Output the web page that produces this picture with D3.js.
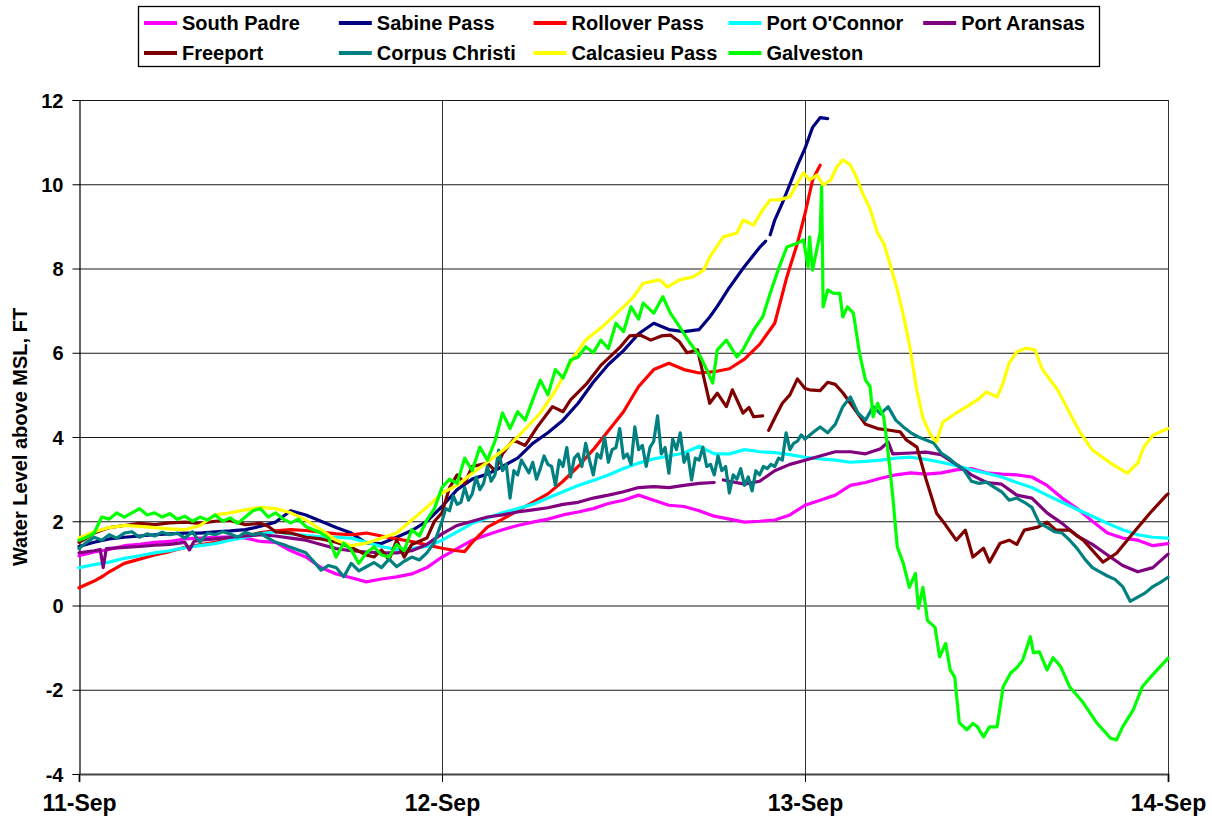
<!DOCTYPE html>
<html>
<head>
<meta charset="utf-8">
<script src="https://cdn.jsdelivr.net/npm/d3@7"></script>
<style>
  body { margin: 0; background: #fff; }
  svg { display: block; }
  text { font-family: "Liberation Sans", Arial, sans-serif; font-weight: bold; fill: #000; }
</style>
</head>
<body>
<svg id="chart" width="1212" height="817"></svg>
<script>
// Water level readings, [hours after 11-Sep 00:00, feet above MSL]; null marks a data gap.
const southPadre = [[0,1.18],[1,1.27],[2,1.33],[3,1.42],[4,1.45],[5,1.5],[6,1.52],[7,1.58],[8,1.6],[9,1.62],[10,1.63],[11,1.6],[12,1.52],[13,1.5],[14,1.3],[15,1.15],[16,0.9],[17,0.75],[18,0.66],[19,0.56],[20,0.63],[21,0.68],[22,0.75],[23,0.9],[24,1.15],[25,1.35],[26,1.55],[27,1.68],[28,1.8],[29,1.9],[30,1.98],[31,2.05],[32,2.15],[33,2.22],[34,2.3],[35,2.42],[36,2.5],[37,2.62],[38,2.5],[39,2.38],[40,2.35],[41,2.25],[42,2.12],[43,2.05],[44,1.98],[45,2.0],[46,2.03],[47,2.15],[48,2.38],[49,2.5],[50,2.62],[51,2.85],[52,2.92],[53,3.02],[54,3.1],[55,3.15],[56,3.12],[57,3.15],[58,3.22],[59,3.25],[60,3.15],[61,3.12],[62,3.1],[63,3.05],[64,2.85],[65,2.55],[66,2.3],[67,2.0],[68,1.72],[69,1.6],[70,1.55],[71,1.42],[72,1.47]];

const sabinePass = [[0,1.4],[1,1.5],[2,1.58],[3,1.62],[4,1.65],[5,1.68],[6,1.7],[7,1.72],[8,1.72],[9,1.75],[10,1.77],[11,1.8],[12,1.88],[13,1.98],[14,2.25],[15,2.15],[16,2.0],[17,1.85],[18,1.72],[19,1.48],[20,1.47],[21,1.62],[22,1.78],[23,2.0],[24,2.35],[25,2.75],[26,3.0],[27,3.12],[28,3.3],[29,3.5],[30,3.85],[31,4.1],[32,4.4],[33,4.8],[34,5.3],[35,5.72],[36,6.05],[37,6.45],[38,6.7],[39,6.55],[40,6.5],[41,6.55],[41.7,6.85],[42.2,7.1],[43,7.55],[44,8.05],[45,8.5],[45.4,8.65],[45.55,null],[45.7,8.8],[46,9.15],[46.5,9.55],[47,10.0],[47.5,10.45],[48,10.85],[48.5,11.35],[49,11.58],[49.5,11.56]];

const rolloverPass = [[0,0.42],[1,0.58],[1.6,0.7],[2,0.8],[3,1.0],[4,1.1],[5,1.2],[6,1.28],[7,1.38],[8,1.44],[9,1.5],[10,1.58],[11,1.65],[12,1.73],[13,1.77],[14,1.8],[15,1.78],[16,1.74],[17,1.7],[18,1.68],[19,1.72],[20,1.65],[21,1.58],[22,1.52],[23,1.44],[24,1.36],[25,1.3],[25.5,1.28],[26,1.5],[27,1.86],[28,2.05],[29,2.25],[30,2.45],[31,2.65],[32,2.95],[33,3.3],[34,3.7],[35,4.15],[36,4.6],[37,5.2],[38,5.6],[39,5.75],[40,5.6],[41,5.52],[42,5.55],[43,5.62],[44,5.85],[45,6.2],[46,6.7],[46.8,7.8],[47.5,8.6],[48,9.3],[48.5,10.1],[49,10.45]];

const portOConnor = [[0,0.9],[1,0.97],[2,1.03],[3,1.12],[4,1.18],[5,1.25],[6,1.3],[7,1.37],[8,1.42],[9,1.47],[10,1.55],[11,1.62],[12,1.7],[13,1.75],[14,1.7],[15,1.66],[16,1.63],[17,1.62],[18,1.6],[19,1.5],[20,1.4],[21,1.33],[22,1.35],[23,1.4],[24,1.55],[25,1.75],[26,1.95],[27,2.08],[28,2.2],[29,2.3],[30,2.4],[31,2.55],[32,2.7],[33,2.85],[34,2.97],[35,3.1],[36,3.25],[37,3.38],[38,3.48],[39,3.55],[40,3.62],[41,3.78],[42,3.6],[43,3.6],[44,3.7],[45,3.65],[46,3.63],[47,3.58],[48,3.52],[49,3.48],[50,3.45],[51,3.4],[52,3.42],[53,3.45],[54,3.5],[55,3.52],[56,3.47],[57,3.4],[58,3.32],[59,3.22],[60,3.14],[61,3.05],[62,2.92],[63,2.8],[64,2.62],[65,2.45],[66,2.28],[67,2.12],[68,1.95],[69,1.8],[70,1.68],[71,1.62],[72,1.6]];

const portAransas = [[0,1.25],[1,1.3],[1.4,1.33],[1.6,0.9],[1.8,1.35],[3,1.38],[4,1.4],[5,1.43],[6,1.45],[7,1.5],[7.3,1.32],[7.6,1.52],[8,1.55],[9,1.58],[10,1.62],[11,1.65],[12,1.68],[13,1.65],[14,1.6],[15,1.55],[16,1.45],[17,1.35],[18,1.3],[19,1.27],[20,1.25],[21,1.25],[22,1.3],[23,1.45],[24,1.7],[25,1.9],[26,2.0],[27,2.1],[28,2.15],[29,2.22],[30,2.27],[31,2.32],[32,2.4],[33,2.45],[34,2.55],[35,2.62],[36,2.7],[37,2.8],[38,2.82],[39,2.8],[40,2.85],[41,2.9],[42,2.92],[42.3,null],[42.6,2.98],[43,2.95],[44,2.88],[45,2.95],[46,3.2],[47,3.35],[48,3.45],[49,3.55],[50,3.65],[51,3.65],[52,3.6],[53,3.72],[53.5,3.88],[53.8,3.6],[55,3.62],[56,3.64],[57,3.58],[58,3.35],[59,3.1],[60,2.92],[61,2.88],[62,2.62],[63,2.55],[64,2.2],[65,1.95],[66,1.65],[67,1.45],[68,1.2],[69,0.95],[70,0.8],[71,0.9],[72,1.22]];

const freeport = [[0,1.5],[0.5,1.6],[1,1.72],[2,1.85],[3,1.9],[4,1.95],[5,1.92],[6,1.96],[7,1.98],[8,1.95],[9,2.0],[10,2.02],[11,1.92],[12,1.95],[12.5,1.88],[13,1.75],[14,1.72],[15,1.62],[16,1.58],[17,1.5],[18,1.38],[19,1.2],[19.5,1.15],[20,1.32],[20.5,1.08],[21,1.55],[21.5,1.15],[22,1.45],[23,1.6],[23.5,2.0],[24,2.2],[24.5,2.8],[25,3.1],[25.5,2.9],[26,3.3],[27,3.38],[27.5,3.2],[28,3.6],[28.7,3.93],[29.5,3.8],[30.3,4.24],[31.3,4.72],[32,4.6],[32.5,4.88],[33.6,5.28],[34.5,5.7],[35.8,6.14],[36.4,6.4],[37.1,6.42],[37.8,6.3],[38.5,6.4],[39.1,6.42],[39.7,6.26],[40.2,6.0],[40.9,6.07],[41.3,5.43],[41.5,5.12],[41.7,4.8],[42.2,5.04],[42.8,4.72],[43.2,5.12],[43.9,4.57],[44.3,4.7],[44.6,4.48],[45.2,4.5],[45.4,null],[45.6,4.16],[46,4.45],[46.5,4.8],[47,5.0],[47.5,5.38],[48,5.15],[48.3,5.12],[49,5.1],[49.5,5.3],[50,5.25],[50.5,5.05],[51,4.8],[52,4.3],[52.8,4.2],[53.6,4.16],[54.3,4.12],[54.7,3.93],[55.4,3.76],[56,3.0],[56.7,2.19],[57.3,1.91],[58,1.55],[58.6,1.79],[59.1,1.15],[59.8,1.36],[60.2,1.03],[60.9,1.48],[61.5,1.55],[62,1.45],[62.5,1.79],[63.4,1.86],[64,1.98],[64.6,1.79],[65.5,1.79],[66.4,1.55],[67.7,1.03],[68.6,1.24],[69.7,1.72],[70.8,2.19],[71.9,2.62],[72,2.65]];

const corpusChristi = [[0,1.35],[0.5,1.5],[1,1.62],[1.5,1.55],[2,1.68],[2.5,1.6],[3,1.72],[3.5,1.75],[4,1.62],[4.5,1.7],[5,1.65],[5.5,1.74],[6,1.68],[6.5,1.72],[7,1.6],[7.5,1.75],[8,1.5],[8.5,1.72],[9,1.68],[9.5,1.75],[10,1.7],[10.5,1.62],[11,1.74],[11.5,1.68],[12,1.72],[12.5,1.6],[13,1.5],[13.5,1.45],[14,1.38],[14.5,1.32],[15,1.25],[15.5,1.05],[16,0.84],[16.5,0.95],[17,0.9],[17.5,0.68],[18,1.0],[18.5,0.82],[19,0.92],[19.5,1.02],[20,0.9],[20.5,1.1],[21,0.92],[21.5,1.05],[22,1.15],[22.5,1.08],[23,1.25],[23.5,1.5],[24,2.0],[24.25,2.3],[24.5,2.25],[24.75,2.6],[25,2.4],[25.25,2.45],[25.5,2.8],[25.75,2.5],[26,2.65],[26.25,3.05],[26.5,2.75],[26.75,2.9],[27,3.3],[27.25,2.95],[27.5,3.1],[27.75,3.69],[28,3.2],[28.25,3.35],[28.5,2.55],[28.75,3.2],[29,3.1],[29.25,3.45],[29.5,3.3],[29.75,3.15],[30,3.4],[30.25,3.0],[30.5,3.25],[30.75,3.55],[31,3.35],[31.25,3.3],[31.5,2.85],[31.75,3.45],[32,3.3],[32.25,3.75],[32.5,3.05],[32.75,3.5],[33,3.6],[33.25,3.3],[33.5,3.85],[33.75,3.45],[34,3.1],[34.25,3.6],[34.5,3.5],[34.75,4.0],[35,3.4],[35.25,3.7],[35.5,3.75],[35.75,4.2],[36,3.5],[36.25,3.6],[36.5,3.35],[36.75,4.24],[37,3.7],[37.25,3.8],[37.5,3.3],[37.75,3.75],[38,3.9],[38.25,4.5],[38.5,3.6],[38.75,3.75],[39,3.14],[39.25,3.95],[39.5,3.7],[39.75,4.1],[40,3.4],[40.25,3.6],[40.5,2.98],[40.75,3.5],[41,3.45],[41.25,3.76],[41.5,3.3],[41.75,3.35],[42,3.1],[42.25,3.55],[42.5,3.2],[42.75,3.3],[43,2.67],[43.25,3.1],[43.5,3.0],[43.75,3.25],[44,2.85],[44.25,3.05],[44.5,2.72],[44.75,3.2],[45,3.1],[45.25,3.3],[45.5,3.25],[45.75,3.35],[46,3.3],[46.25,3.5],[46.5,3.45],[46.75,4.1],[47,3.7],[47.25,3.85],[47.5,3.9],[47.75,4.05],[48,3.95],[48.5,4.1],[49,4.24],[49.5,4.1],[50,4.3],[50.5,4.72],[51,4.95],[51.5,4.57],[52,4.4],[52.5,4.72],[53,4.55],[53.5,4.72],[54,4.4],[54.5,4.24],[55,4.1],[55.5,4.0],[56,3.93],[56.5,3.86],[57,3.62],[57.5,3.5],[58,3.35],[58.5,3.22],[59,2.95],[59.5,2.9],[60,2.93],[60.5,2.81],[61,2.7],[61.5,2.5],[62,2.55],[62.5,2.45],[63,2.33],[63.5,1.95],[64,1.86],[64.5,1.75],[65,1.72],[65.5,1.55],[66,1.35],[66.5,1.1],[67,0.9],[67.5,0.8],[68,0.7],[68.5,0.62],[69,0.45],[69.5,0.1],[70,0.2],[70.5,0.3],[71,0.45],[71.5,0.55],[72,0.67]];

const calcasieuPass = [[0,1.6],[1,1.75],[2,1.85],[3,1.9],[4,1.88],[5,1.85],[6,1.82],[7,1.8],[8,1.9],[9,2.15],[10,2.2],[11,2.27],[12,2.33],[13,2.3],[14,2.2],[15,2.03],[16,1.8],[17,1.55],[18,1.42],[19,1.48],[20,1.6],[21,1.72],[22,2.03],[23,2.33],[24,2.67],[25,2.85],[26,3.14],[27,3.4],[28.3,3.76],[29,4.0],[30.5,4.57],[31.5,5.1],[32.7,5.9],[33.5,6.3],[34.6,6.62],[35.3,6.85],[36,7.09],[36.6,7.3],[37.3,7.65],[38.4,7.73],[38.9,7.56],[39.7,7.73],[40.6,7.8],[41.3,7.96],[41.7,8.27],[42.6,8.75],[43.5,8.84],[43.9,9.15],[44.6,9.03],[45.2,9.39],[45.7,9.63],[46.3,9.63],[47,9.7],[47.5,10.03],[47.9,10.27],[48.3,10.1],[48.8,10.22],[49.2,9.98],[49.7,10.1],[50.1,10.41],[50.5,10.58],[51,10.46],[51.4,10.17],[51.8,9.79],[52.3,9.42],[52.8,8.84],[53.2,8.6],[53.6,8.13],[54.1,7.5],[54.5,6.9],[54.9,6.2],[55.4,5.1],[55.8,4.45],[56.3,4.05],[56.7,3.88],[57.1,4.35],[58,4.57],[58.7,4.72],[59.4,4.88],[60,5.07],[60.7,4.95],[61.1,5.28],[61.5,5.76],[62,6.02],[62.6,6.11],[63.2,6.07],[63.7,5.6],[64.7,5.12],[65.5,4.57],[66.2,4.1],[67,3.69],[68.2,3.38],[69.3,3.14],[70,3.38],[70.4,3.76],[71,4.04],[72,4.2]];

const galveston = [[0,1.55],[0.5,1.62],[1,1.72],[1.5,2.1],[2,2.05],[2.5,2.2],[3,2.1],[3.5,2.2],[4,2.3],[4.5,2.15],[5,2.2],[5.5,2.1],[6,2.18],[6.5,2.05],[7,2.12],[7.5,2.0],[8,2.1],[8.5,2.03],[9,2.15],[9.5,2.0],[10,2.08],[10.5,1.95],[11,2.1],[11.5,2.25],[12,2.3],[12.5,2.1],[13,2.2],[13.5,2.05],[14,1.96],[14.5,2.05],[15,1.87],[15.5,1.8],[16,1.72],[16.5,1.6],[17,1.15],[17.5,1.48],[18,1.32],[18.5,1.0],[19,1.25],[19.5,1.39],[20,1.2],[20.5,1.15],[21,1.45],[21.5,1.3],[22,1.8],[22.5,1.65],[23,2.03],[23.5,2.3],[24,2.8],[24.5,3.0],[25,2.9],[25.5,3.5],[26,3.2],[26.5,3.76],[27,3.45],[27.5,3.9],[28,4.57],[28.5,4.2],[29,4.6],[29.5,4.4],[30,4.88],[30.5,5.35],[31,5.0],[31.5,5.6],[32,5.4],[32.5,5.83],[33,5.9],[33.5,6.14],[34,6.0],[34.5,6.3],[35,6.1],[35.5,6.7],[36,6.5],[36.5,7.09],[37,6.8],[37.3,7.18],[38,6.94],[38.6,7.33],[39.1,6.94],[39.7,6.62],[40.4,6.23],[41.1,5.9],[41.5,5.6],[41.9,5.28],[42.2,6.07],[42.8,6.3],[43.5,5.9],[43.9,6.07],[44.6,6.54],[45.2,6.85],[45.7,7.41],[46.3,8.04],[46.8,8.51],[47.5,8.6],[47.9,8.68],[48.2,8.04],[48.3,8.75],[48.5,7.96],[49,8.84],[49.1,9.94],[49.2,7.09],[49.5,7.49],[49.9,7.41],[50.3,7.41],[50.5,6.85],[50.8,7.09],[51.2,6.94],[51.6,6.0],[52,5.35],[52.3,5.2],[52.5,4.48],[52.8,4.8],[53.2,4.48],[53.4,3.93],[53.6,3.29],[53.8,2.6],[54.1,1.39],[54.5,1.0],[54.9,0.43],[55.3,0.76],[55.5,-0.07],[55.8,0.43],[56.1,-0.36],[56.6,-0.52],[56.9,-1.22],[57.3,-0.9],[57.6,-1.53],[57.9,-1.7],[58.2,-2.78],[58.7,-2.95],[59.1,-2.8],[59.4,-2.88],[59.8,-3.12],[60.2,-2.88],[60.7,-2.88],[61.1,-1.93],[61.6,-1.6],[62,-1.48],[62.4,-1.29],[62.9,-0.74],[63.1,-1.12],[63.5,-1.1],[64,-1.53],[64.4,-1.24],[64.9,-1.45],[65.5,-1.93],[66.4,-2.31],[67.3,-2.79],[68.2,-3.15],[68.6,-3.19],[69,-2.88],[69.7,-2.48],[70.3,-1.93],[70.8,-1.72],[71.9,-1.29],[72,-1.25]];

// Stations in drawing order (later ones are drawn on top), legend text and line colours.
const stationNames = ["South Padre", "Sabine Pass", "Rollover Pass", "Port O'Connor", "Port Aransas",
                      "Freeport", "Corpus Christi", "Calcasieu Pass", "Galveston"];
const stationData = [southPadre, sabinePass, rolloverPass, portOConnor, portAransas,
                     freeport, corpusChristi, calcasieuPass, galveston];
const stationColors = ["#ff00ff", "#000080", "#ff0000", "#00ffff", "#800080",
                       "#800000", "#008080", "#ffff00", "#00ff00"];

const dayTicks = [0, 24, 48, 72];
const dayLabels = ["11-Sep", "12-Sep", "13-Sep", "14-Sep"];
const levelTicks = [-4, -2, 0, 2, 4, 6, 8, 10, 12];

const svg = d3.select("#chart");
const plot = { left: 79, right: 1168, top: 100, bottom: 774 };

const x = d3.scaleLinear().domain([0, 72]).range([plot.left, plot.right]);
const y = d3.scaleLinear().domain([-4, 12]).range([plot.bottom, plot.top]);

// Grid
const grid = svg.append("g");
grid.selectAll("line.h").data(levelTicks.filter(v => v > -4)).join("line")
  .attr("x1", plot.left).attr("x2", plot.right)
  .attr("y1", d => y(d) + 0.5).attr("y2", d => y(d) + 0.5)
  .attr("stroke", "#1a1a1a").attr("stroke-width", 1);
grid.selectAll("line.v").data(dayTicks.slice(1)).join("line")
  .attr("x1", d => x(d) + 0.5).attr("x2", d => x(d) + 0.5)
  .attr("y1", plot.top).attr("y2", plot.bottom)
  .attr("stroke", "#333").attr("stroke-width", 1);

// Axes (plain hyphen for negative values)
const yAxis = svg.append("g")
  .attr("transform", `translate(${plot.left + 0.5},0)`)
  .call(d3.axisLeft(y).tickValues(levelTicks).tickSize(7).tickPadding(9).tickFormat(d => String(d)));
yAxis.select(".domain").attr("stroke", "#000").attr("stroke-width", 1.2);
yAxis.selectAll(".tick line").attr("stroke", "#000");
yAxis.selectAll(".tick text").style("font-size", "20px").attr("dy", "0.36em");

const xAxis = svg.append("g")
  .attr("transform", `translate(0,${plot.bottom})`)
  .call(d3.axisBottom(x).tickValues(dayTicks).tickSize(8).tickPadding(13)
        .tickFormat((d, i) => dayLabels[i]));
xAxis.select(".domain").attr("stroke", "#444").attr("stroke-width", 2);
xAxis.selectAll(".tick line").attr("stroke", "#000");
xAxis.selectAll(".tick text").style("font-size", "23px").attr("dy", "0.71em");

// Axis title
svg.append("text")
  .attr("transform", `translate(27,${(plot.top + plot.bottom) / 2}) rotate(-90)`)
  .attr("text-anchor", "middle")
  .style("font-size", "20px")
  .text("Water Level above MSL, FT");

// Station lines
const line = d3.line()
  .defined(d => d[1] !== null)
  .x(d => x(d[0]))
  .y(d => y(d[1]));

svg.append("g").selectAll("path").data(stationData).join("path")
  .attr("d", line)
  .attr("fill", "none")
  .attr("stroke", (d, i) => stationColors[i])
  .attr("stroke-width", 3.2)
  .attr("stroke-linejoin", "round")
  .attr("stroke-linecap", "round");

// Legend
const legend = svg.append("g");
legend.append("rect")
  .attr("x", 138.5).attr("y", 6.5).attr("width", 961).attr("height", 60)
  .attr("fill", "#fff").attr("stroke", "#000").attr("stroke-width", 1.3);
const colW = 194.8, rowH = 30;
const items = legend.selectAll("g.item").data(stationNames).join("g")
  .attr("transform", (d, i) => `translate(${144 + (i % 5) * colW},${23 + Math.floor(i / 5) * rowH})`);
items.append("line")
  .attr("x1", 0).attr("x2", 33).attr("y1", 0).attr("y2", 0)
  .attr("stroke", (d, i) => stationColors[i]).attr("stroke-width", 4);
items.append("text")
  .attr("x", 38).attr("dy", "0.36em")
  .style("font-size", "20px")
  .text(d => d);
</script>
</body>
</html>
